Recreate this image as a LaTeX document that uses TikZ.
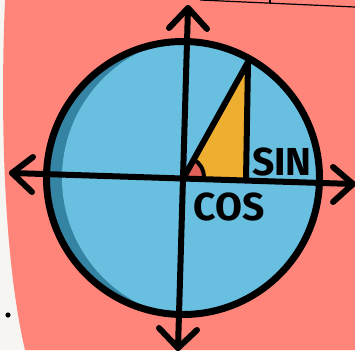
\documentclass[tikz,border=0pt]{standalone}
\usepackage{fontspec}
\newfontfamily\labelfont{Fira Sans}
\definecolor{bgwhite}{HTML}{F6F5F1}
\definecolor{pinkbg}{HTML}{FF857A}
\definecolor{lightblue}{HTML}{68BFE0}
\definecolor{darkblue}{HTML}{3584A3}
\definecolor{trifill}{HTML}{EEAE2F}
\definecolor{anglered}{HTML}{E0605A}
\tikzset{
  axisline/.style={line width=6pt, line cap=round, line join=round},
  arrowarm/.style={line width=6pt, line cap=round, line join=round},
  trilabel/.style={font=\labelfont\bfseries\fontsize{39}{39}\selectfont, inner sep=0pt, text=black}
}
\begin{document}
\begin{tikzpicture}[x=1pt,y=-1pt]
\useasboundingbox (0,0) rectangle (355,350);
% background
\fill[bgwhite] (0,0) rectangle (355,350);
\fill[pinkbg] (5,0) .. controls (0,120) and (4,260) .. (25,350) -- (355,350) -- (355,0) -- cycle;
\draw[line width=1.2pt] (200,0) -- (355,7);
\draw[line width=1.2pt] (270,0) -- (270,3.5);
\fill[black] (8,315) circle[radius=2.6pt];
% coordinates
\coordinate (C) at (183,178);
\coordinate (O) at (184,177);
\coordinate (P) at (248,62);
\coordinate (Q) at (246,180);
\coordinate (L) at (12,173);
\coordinate (R) at (353,184);
\coordinate (T) at (188,8);
\coordinate (B) at (178,348);
% circle fill
\fill[darkblue] (C) circle[radius=136.5pt];
\begin{scope}
  \clip (C) circle[radius=136.5pt];
  \fill[lightblue] ([xshift=20pt]C) circle[radius=141pt];
\end{scope}
% triangle
\fill[trifill] (O) -- (P) -- (Q) -- cycle;
\fill[anglered] (O) -- ++(18pt,0pt) arc[start angle=0,end angle=61,radius=18pt] -- cycle;
\draw[line width=4pt] ([shift={(20pt,0pt)}]O) arc[start angle=0,end angle=61,radius=20pt];
% axes
\draw[axisline] (L) -- (R);
\draw[axisline] (T) -- (B);
% circle outline
\draw[line width=7pt] (C) circle[radius=136.5pt];
% triangle sides
\draw[axisline] (O) -- (P) -- (Q);
% arrowheads
\draw[arrowarm] (33,157) -- (L) -- (32,192);
\draw[arrowarm] (333,167) -- (R) -- (333,202);
\draw[arrowarm] (169,28) -- (T) -- (207,29);
\draw[arrowarm] (159,328) -- (B) -- (197,330);
% labels
\node[trilabel] (sin) at (282,162) {SIN};
\node[trilabel] (cos) at (229,207) {COS};
\end{tikzpicture}
\end{document}
